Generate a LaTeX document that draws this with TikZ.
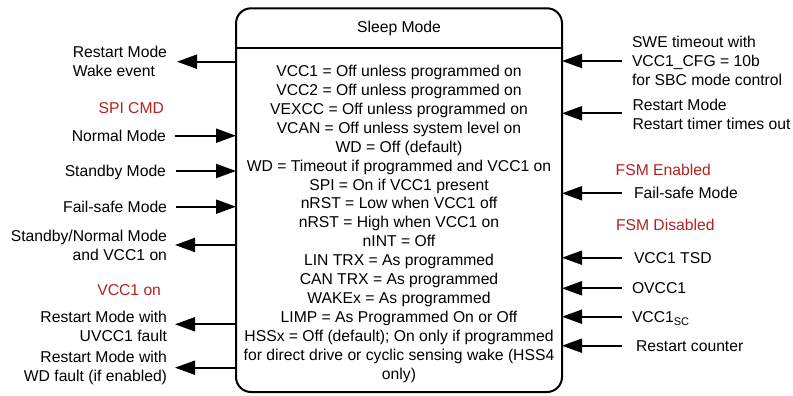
\documentclass[tikz,border=0pt]{standalone}
\usepackage{fontspec}
\setmainfont{Liberation Sans}
\usetikzlibrary{arrows.meta}
\definecolor{cmdred}{RGB}{178,34,34}
\tikzset{
  base/.style={font=\fontsize{15.7}{18.9}\selectfont, inner sep=0pt, outer sep=0pt},
  one/.style={text height=11.2pt, text depth=0pt},
  lbl/.style={base},
  cond/.style={base, one, text=cmdred},
  arr/.style={line width=2pt, -{Triangle[length=20pt,width=14pt]}},
  frame/.style={draw, line width=2pt, rounded corners=15pt, inner sep=0pt, outer sep=0pt},
  rule/.style={line width=2pt},
}
\begin{document}
\begin{tikzpicture}[x=1pt,y=-1pt]
\useasboundingbox (0,0) rectangle (793,396);
% main box
\node[frame, minimum width=326pt, minimum height=383.7pt, anchor=north west] (box) at (236,8.3) {};
\coordinate (divL) at (236,47.7);
\coordinate (divR) at (562,47.7);
\draw[rule] (divL) -- (divR);
\node[base, one] (title) at (399,27.3) {Sleep Mode};
\node[base, align=center] (body) at (399,223.8) {VCC1 = Off unless programmed on\\
VCC2 = Off unless programmed on\\
VEXCC = Off unless programmed on\\
VCAN = Off unless system level on\\
WD = Off (default)\\
WD = Timeout if programmed and VCC1 on\\
SPI = On if VCC1 present\\
nRST = Low when VCC1 off\\
nRST = High when VCC1 on\\
nINT = Off\\
LIN TRX = As programmed\\
CAN TRX = As programmed\\
WAKEx = As programmed\\
LIMP = As Programmed On or Off\\
HSSx = Off (default); On only if programmed\\
for direct drive or cyclic sensing wake (HSS4\\
only)};

% ---------- left side ----------
\node[lbl, align=left, anchor=east] (wake) at (167,61.4) {Restart Mode\\Wake event};
\coordinate (wakeE) at (177,61.7);
\draw[arr] (box.west |- wakeE) -- (wakeE);

\node[cond, anchor=east] (spicmd) at (164,107.7) {SPI CMD};

\node[lbl, one, anchor=east] (normal) at (166,135.7) {Normal Mode};
\coordinate (normalE) at (175,135.7);
\draw[arr] (normalE) -- (box.west |- normalE);

\node[lbl, one, anchor=east] (standby) at (166,171) {Standby Mode};
\coordinate (standbyE) at (176,171);
\draw[arr] (standbyE) -- (box.west |- standbyE);

\node[lbl, one, anchor=east] (failL) at (167,206.7) {Fail-safe Mode};
\coordinate (failLE) at (176,206.7);
\draw[arr] (failLE) -- (box.west |- failLE);

\node[lbl, align=right, anchor=east] (stdnorm) at (167,245) {Standby/Normal Mode\\and VCC1 on};
\coordinate (stdnormE) at (175,245);
\draw[arr] (box.west |- stdnormE) -- (stdnormE);

\node[cond, anchor=east] (vccon) at (161,290) {VCC1 on};

\node[lbl, align=right, anchor=east] (uv) at (167,326.5) {Restart Mode with\\UVCC1 fault};
\coordinate (uvE) at (175,324.3);
\draw[arr] (box.west |- uvE) -- (uvE);

\node[lbl, align=right, anchor=east] (wdf) at (167,368.3) {Restart Mode with\\WD fault (if enabled)};
\coordinate (wdfE) at (175,367.7);
\draw[arr] (box.west |- wdfE) -- (wdfE);

% ---------- right side ----------
\node[lbl, align=left, anchor=west] (swe) at (632,60.5) {SWE timeout with\\VCC1\_CFG = 10b\\for SBC mode control};
\coordinate (sweW) at (622,61);
\draw[arr] (sweW) -- (box.east |- sweW);

\node[lbl, align=left, anchor=west] (rst) at (632.5,114.5) {Restart Mode\\Restart timer times out};
\coordinate (rstW) at (622,113.3);
\draw[arr] (rstW) -- (box.east |- rstW);

\node[cond, anchor=west] (fsmen) at (615.7,170) {FSM Enabled};

\node[lbl, one, anchor=west] (failR) at (634,193.3) {Fail-safe Mode};
\coordinate (failRW) at (622,193.3);
\draw[arr] (failRW) -- (box.east |- failRW);

\node[cond, anchor=west] (fsmdis) at (616,225) {FSM Disabled};

\node[lbl, one, anchor=west] (tsd) at (634,257.7) {VCC1 TSD};
\coordinate (tsdW) at (622,257.7);
\draw[arr] (tsdW) -- (box.east |- tsdW);

\node[lbl, one, anchor=west] (ov) at (632,288.3) {OVCC1};
\coordinate (ovW) at (622,288.3);
\draw[arr] (ovW) -- (box.east |- ovW);

\node[lbl, one, anchor=west] (sc) at (632,316.7) {VCC1\textsubscript{SC}};
\coordinate (scW) at (622,316.7);
\draw[arr] (scW) -- (box.east |- scW);

\node[lbl, one, anchor=west] (rc) at (636,345.7) {Restart counter};
\coordinate (rcW) at (622,345.7);
\draw[arr] (rcW) -- (box.east |- rcW);
\end{tikzpicture}
\end{document}
